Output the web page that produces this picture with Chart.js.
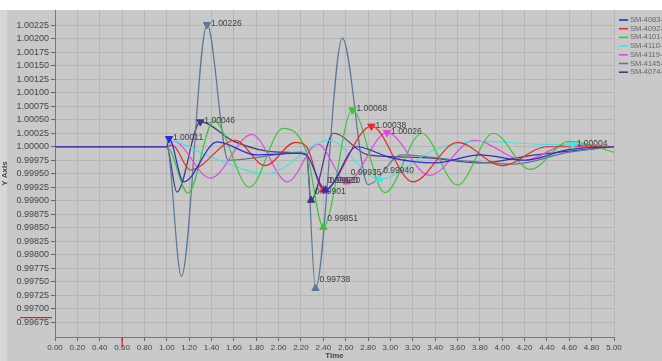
<!DOCTYPE html>
<html>
<head>
<meta charset="utf-8">
<script src="https://cdn.jsdelivr.net/npm/chart.js@4/dist/chart.umd.min.js"></script>
<style>
  html, body { margin: 0; padding: 0; background: #ffffff; }
  #wrap { width: 662px; height: 361px; position: relative; }
</style>
</head>
<body>
<div id="wrap"><canvas id="myChart"></canvas></div>
<script>
// series names (legend)
const seriesNames = ['SM-4083-V', 'SM-4092-V', 'SM-4101-V', 'SM-4110-V', 'SM-4119-V', 'SM-4145-V', 'SM-4074-V'];

// each series: time points and values (at peaks / troughs)
const t4083 = [0, 1.00, 1.02, 1.15, 1.45, 1.80, 2.20, 2.25, 2.42, 2.70, 3.00, 3.40, 3.80, 4.20, 4.60, 5.00];
const v4083 = [1, 1, 1.00015, 0.99935, 1.00009, 0.99985, 0.99988, 0.99985, 0.99920, 1.00000, 0.99980, 0.99970, 0.99985, 0.99975, 0.99995, 1.00000];

const t4092 = [0, 1.00, 1.05, 1.21, 1.61, 1.88, 2.15, 2.25, 2.40, 2.83, 3.20, 3.60, 4.00, 4.40, 5.00];
const v4092 = [1, 1, 1.00003, 0.99957, 1.00012, 0.99965, 1.00008, 1.00000, 0.99920, 1.00038, 0.99935, 1.00008, 0.99965, 1.00000, 1.00000];

const t4101 = [0, 1.00, 1.19, 1.42, 1.74, 2.04, 2.25, 2.40, 2.66, 2.95, 3.28, 3.60, 3.92, 4.25, 4.60, 5.00];
const v4101 = [1, 1, 0.99914, 1.00048, 0.99925, 1.00034, 0.99990, 0.99851, 1.00068, 0.99915, 1.00025, 0.99929, 1.00025, 0.99958, 1.00010, 0.99990];

const t4110 = [0, 1.00, 1.05, 1.35, 1.90, 2.45, 2.90, 3.40, 3.80, 4.30, 4.63, 5.00];
const v4110 = [1, 1, 1.00010, 0.99985, 0.99950, 1.00012, 0.99940, 0.99995, 1.00010, 1.00005, 1.00004, 1.00000];

const t4119 = [0, 1.00, 1.06, 1.39, 1.76, 2.08, 2.35, 2.61, 2.97, 3.35, 3.75, 4.20, 4.60, 5.00];
const v4119 = [1, 1, 1.00010, 0.99942, 1.00023, 0.99935, 1.00005, 0.99935, 1.00026, 0.99947, 1.00012, 0.99975, 1.00005, 1.00000];

const t4145 = [0, 1.00, 1.13, 1.36, 1.55, 1.80, 2.20, 2.25, 2.33, 2.57, 2.80, 3.10, 3.60, 4.10, 4.60, 5.00];
const v4145 = [1, 1, 0.99760, 1.00226, 0.99975, 0.99980, 0.99990, 0.99985, 0.99738, 1.00201, 0.99930, 0.99985, 0.99975, 0.99968, 0.99990, 1.00000];

const t4074 = [0, 1.00, 1.09, 1.30, 1.60, 2.00, 2.25, 2.29, 2.49, 2.80, 3.30, 3.80, 4.30, 5.00];
const v4074 = [1, 1, 0.99916, 1.00046, 1.00010, 0.99990, 0.99985, 0.99901, 1.00025, 0.99985, 0.99980, 0.99970, 0.99985, 1.00000];

const seriesT = [t4083, t4092, t4101, t4110, t4119, t4145, t4074];
const seriesV = [v4083, v4092, v4101, v4110, v4119, v4145, v4074];

// peak / valley markers
const markSeries = [5, 6, 0, 2, 1, 4, 3, 4, 1, 0, 6, 2, 5, 3];
const markT = [1.36, 1.30, 1.02, 2.66, 2.83, 2.97, 2.90, 2.61, 2.40, 2.42, 2.29, 2.40, 2.33, 4.63];
const markV = [1.00226, 1.00046, 1.00015, 1.00068, 1.00038, 1.00026, 0.99940, 0.99935, 0.99920, 0.99920, 0.99901, 0.99851, 0.99738, 1.00004];
const markText = ['1.00226', '1.00046', '1.00011', '1.00068', '1.00038', '1.00026', '0.99940', '0.99935', '0.99920', '0.99920', '0.99901', '0.99851', '0.99738', '1.00004'];

// tick labels
const xTicks = [0, 0.2, 0.4, 0.6, 0.8, 1.0, 1.2, 1.4, 1.6, 1.8, 2.0, 2.2, 2.4, 2.6, 2.8, 3.0, 3.2, 3.4, 3.6, 3.8, 4.0, 4.2, 4.4, 4.6, 4.8, 5.0];
const yTicks = [0.99675, 0.99700, 0.99725, 0.99750, 0.99775, 0.99800, 0.99825, 0.99850, 0.99875, 0.99900, 0.99925, 0.99950, 0.99975,
                1.00000, 1.00025, 1.00050, 1.00075, 1.00100, 1.00125, 1.00150, 1.00175, 1.00200, 1.00225];

// cursors (red marks on axes)
const cursorY = 0.99684;
const cursorX = 0.60;

const colors = ['#2b2bd6', '#e42a2a', '#3cc43c', '#46e2e2', '#e246e2', '#5c7896', '#3c3c7c'];

const datasets = seriesNames.map((name, i) => ({
  label: name,
  data: seriesT[i].map((t, k) => ({ x: t, y: seriesV[i][k] })),
  borderColor: colors[i],
  borderWidth: 1.2,
  pointRadius: 0,
  cubicInterpolationMode: 'monotone',
  fill: false,
  order: 1
}));

datasets.push({
  label: 'markers',
  type: 'scatter',
  data: markT.map((t, k) => ({ x: t, y: markV[k] })),
  pointStyle: 'triangle',
  pointRadius: 4.2,
  pointRotation: markV.map(v => v >= 1 ? 180 : 0),
  pointBackgroundColor: markSeries.map(s => colors[s]),
  pointBorderColor: markSeries.map(s => colors[s]),
  order: 0
});

const bgPlugin = {
  id: 'bg',
  beforeDraw(chart) {
    const ctx = chart.ctx;
    ctx.save();
    ctx.fillStyle = '#c9c9c9';
    ctx.fillRect(0, 0, chart.width, chart.height);
    ctx.fillStyle = '#d6d6d6';
    ctx.fillRect(0, 0, 7, chart.height);
    ctx.fillStyle = '#ffffff';
    ctx.fillRect(0, 0, chart.width, 10);
    ctx.restore();
  }
};

const markPlugin = {
  id: 'marks',
  afterDatasetsDraw(chart) {
    const ctx = chart.ctx;
    const meta = chart.getDatasetMeta(chart.data.datasets.length - 1);
    ctx.save();
    ctx.font = '8.5px "Liberation Sans", Arial, sans-serif';
    ctx.fillStyle = '#404040';
    ctx.textBaseline = 'middle';
    meta.data.forEach((el, k) => {
      const up = markV[k] >= 1;
      ctx.fillText(markText[k], el.x + 4, up ? el.y - 1 : el.y - 9);
    });

    // red cursors
    const xs = chart.scales.x, ys = chart.scales.y;
    ctx.strokeStyle = '#e02020';
    ctx.lineWidth = 1.2;
    ctx.beginPath();
    const cy = ys.getPixelForValue(cursorY);
    ctx.moveTo(20, cy); ctx.lineTo(chart.chartArea.left - 3, cy);
    const cx = xs.getPixelForValue(cursorX);
    ctx.moveTo(cx, chart.chartArea.bottom + 1); ctx.lineTo(cx, chart.chartArea.bottom + 10);
    ctx.stroke();

    // legend
    ctx.font = '7.5px "Liberation Sans", Arial, sans-serif';
    ctx.fillStyle = '#666666';
    seriesNames.forEach((n, i) => {
      const y = 20 + i * 8.7;
      ctx.strokeStyle = colors[i];
      ctx.lineWidth = 1.6;
      ctx.beginPath(); ctx.moveTo(619, y); ctx.lineTo(628, y); ctx.stroke();
      ctx.fillText(n, 630, y);
    });
    ctx.restore();
  }
};

const ctxEl = document.getElementById('myChart');
new Chart(ctxEl, {
  type: 'line',
  data: { datasets: datasets },
  plugins: [bgPlugin, markPlugin],
  options: {
    responsive: true,
    maintainAspectRatio: false,
    animation: false,
    layout: { padding: { top: 10, right: 48, left: 0, bottom: 0 } },
    plugins: {
      legend: { display: false },
      tooltip: { enabled: false }
    },
    scales: {
      x: {
        type: 'linear',
        min: 0,
        max: 5,
        afterBuildTicks: axis => { axis.ticks = xTicks.map(v => ({ value: v })); },
        afterFit: axis => { axis.height = 24; },
        ticks: {
          color: '#444',
          font: { size: 8, family: '"Liberation Sans", Arial, sans-serif' },
          padding: 2,
          maxRotation: 0,
          autoSkip: false,
          callback: v => Number(v).toFixed(2)
        },
        grid: { color: '#b6b6b6', tickColor: '#666', tickLength: 4 },
        border: { color: '#777' },
        title: {
          display: true,
          text: 'Time',
          color: '#444',
          font: { size: 8, weight: 'bold', family: '"Liberation Sans", Arial, sans-serif' },
          padding: { top: 0, bottom: 0 }
        }
      },
      y: {
        type: 'linear',
        min: 0.99648,
        max: 1.00253,
        afterBuildTicks: axis => { axis.ticks = yTicks.map(v => ({ value: v })); },
        afterFit: axis => { axis.width = 55; },
        ticks: {
          color: '#444',
          font: { size: 9, family: '"Liberation Sans", Arial, sans-serif' },
          padding: 2,
          autoSkip: false,
          callback: v => Number(v).toFixed(5)
        },
        grid: { color: '#b6b6b6', tickColor: '#666', tickLength: 4 },
        border: { color: '#777' },
        title: {
          display: true,
          text: 'Y Axis',
          color: '#444',
          font: { size: 8, weight: 'bold', family: '"Liberation Sans", Arial, sans-serif' },
          padding: { top: 0, bottom: 0 }
        }
      }
    }
  }
});
</script>
</body>
</html>
